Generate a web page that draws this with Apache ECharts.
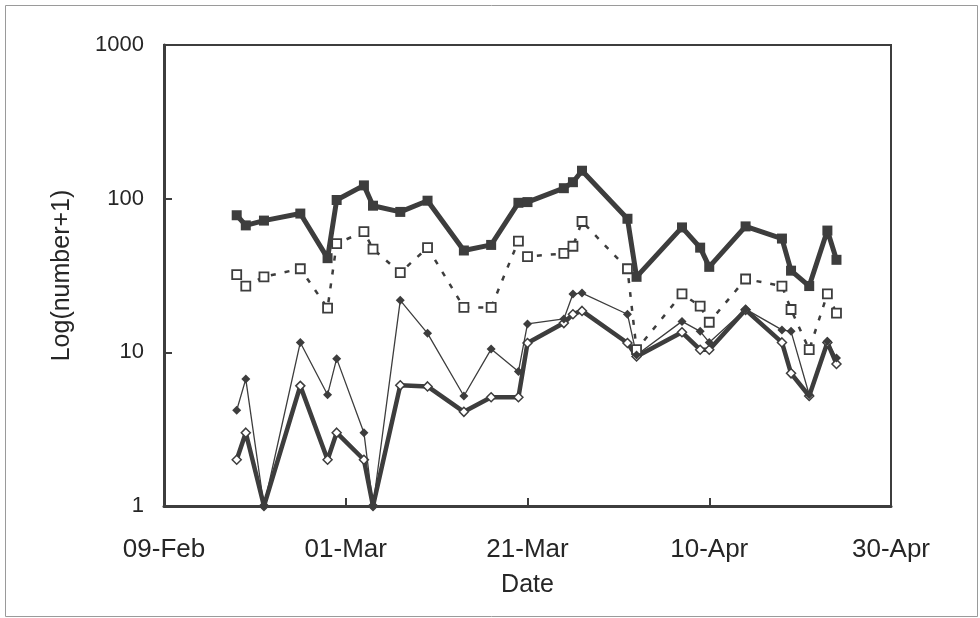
<!DOCTYPE html>
<html>
<head>
<meta charset="utf-8">
<script src="https://cdn.jsdelivr.net/npm/echarts@6/dist/echarts.min.js"></script>
<style>
  html, body { margin: 0; padding: 0; background: #fff; }
  #chart { width: 980px; height: 618px; }
</style>
</head>
<body>
<div id="chart"></div>
<script>
// Sampling dates (day-month, non-leap year)
const sampleDates = ['17-Feb','18-Feb','20-Feb','24-Feb','27-Feb','28-Feb','03-Mar','04-Mar','07-Mar','10-Mar',
  '14-Mar','17-Mar','20-Mar','21-Mar','25-Mar','26-Mar','27-Mar','01-Apr','02-Apr','07-Apr',
  '09-Apr','10-Apr','14-Apr','18-Apr','19-Apr','21-Apr','23-Apr','24-Apr'];

// number+1 for each group
const filledSquares = [78, 67, 72, 80, 41, 98, 122, 90, 82, 97,
  46, 50, 94, 95, 117, 128, 152, 74, 31, 65,
  48, 36, 66, 55, 34, 27, 62, 40];
const openSquares = [32, 27, 31, 35, 19.4, 51, 61, 47, 33, 48,
  19.6, 19.6, 53, 42, 44, 49, 71, 35, 10.4, 24,
  20, 15.7, 30, 27, 19, 10.4, 24, 18];
const filledDiamonds = [4.2, 6.7, 1, 11.6, 5.3, 9.1, 3.0, 1, 21.8, 13.3,
  5.2, 10.5, 7.5, 15.3, 16.5, 24, 24.3, 17.7, 9.6, 15.9,
  13.7, 11.6, 19.1, 14, 13.7, 5.3, 11.8, 9.2];
const openDiamonds = [2.0, 3.0, 1, 6.05, 2.0, 3.0, 2.0, 1, 6.1, 6.0,
  4.1, 5.1, 5.1, 11.5, 15.5, 17.7, 18.6, 11.5, 9.4, 13.5,
  10.4, 10.4, 18.9, 11.6, 7.3, 5.2, 11.6, 8.4];

// Date axis labels, 20 days apart starting 09-Feb
const xTickLabels = ['09-Feb', '01-Mar', '21-Mar', '10-Apr', '30-Apr'];
const yTickLabels = ['1', '10', '100', '1000'];

const monthStart = { Jan: 0, Feb: 31, Mar: 59, Apr: 90, May: 120 };
function dayOfYear(s) {
  const [d, m] = s.split('-');
  return monthStart[m] + parseInt(d, 10);
}
const origin = dayOfYear(xTickLabels[0]);
const xDays = sampleDates.map(s => dayOfYear(s) - origin);
const pairs = arr => arr.map((v, i) => [xDays[i], v]);

const ink = '#3d3d3d';
const textInk = '#262626';
const font = 'Liberation Sans, Arial, sans-serif';

const chart = echarts.init(document.getElementById('chart'), null, { renderer: 'canvas' });
chart.setOption({
  backgroundColor: '#fff',
  animation: false,
  graphic: [{
    type: 'rect', left: 3, top: 3, silent: true,
    shape: { width: 972, height: 611 },
    style: { fill: 'none', stroke: '#9a9a9a', lineWidth: 1 }
  }],
  grid: { left: 164, right: 89, top: 45, bottom: 112, show: true,
          borderColor: ink, borderWidth: 2, containLabel: false },
  xAxis: {
    type: 'value', min: 0, max: 80, interval: 20,
    name: 'Date', nameLocation: 'middle', nameGap: 67,
    nameTextStyle: { fontFamily: font, fontSize: 25, color: textInk },
    axisLine: { show: true, onZero: false, lineStyle: { color: ink, width: 3 } },
    axisTick: { show: true, inside: true, length: 8, lineStyle: { color: ink, width: 2 } },
    axisLabel: { margin: 31, fontFamily: font, fontSize: 26, color: textInk,
                 formatter: v => xTickLabels[Math.round(v / 20)] },
    splitLine: { show: false }
  },
  yAxis: {
    type: 'log', logBase: 10, min: 1, max: 1000,
    name: 'Log(number+1)', nameLocation: 'middle', nameGap: 89, nameRotate: 90,
    nameTextStyle: { fontFamily: font, fontSize: 25, color: textInk },
    axisLine: { show: true, lineStyle: { color: ink, width: 3 } },
    axisTick: { show: true, inside: true, length: 8, lineStyle: { color: ink, width: 2 } },
    axisLabel: { margin: 20, fontFamily: font, fontSize: 22, color: textInk,
                 formatter: v => yTickLabels[Math.round(Math.log10(v))] },
    splitLine: { show: false },
    minorTick: { show: false }
  },
  series: [
    {
      name: 'filled squares', type: 'line', data: pairs(filledSquares),
      symbol: 'rect', symbolSize: 10, z: 5,
      lineStyle: { color: ink, width: 5 },
      itemStyle: { color: ink, borderColor: ink, borderWidth: 0 }
    },
    {
      name: 'open squares', type: 'line', data: pairs(openSquares),
      symbol: 'rect', symbolSize: 9, z: 4,
      lineStyle: { color: ink, width: 2.5, type: [5, 9] },
      itemStyle: { color: '#fff', borderColor: ink, borderWidth: 1.8 }
    },
    {
      name: 'open diamonds', type: 'line', data: pairs(openDiamonds),
      symbol: 'diamond', symbolSize: 9, z: 3,
      lineStyle: { color: ink, width: 4.5 },
      itemStyle: { color: '#fff', borderColor: ink, borderWidth: 1.5 }
    },
    {
      name: 'filled diamonds', type: 'line', data: pairs(filledDiamonds),
      symbol: 'diamond', symbolSize: 9, z: 4,
      lineStyle: { color: ink, width: 1.3 },
      itemStyle: { color: ink, borderColor: ink, borderWidth: 0 }
    }
  ]
});
</script>
</body>
</html>
